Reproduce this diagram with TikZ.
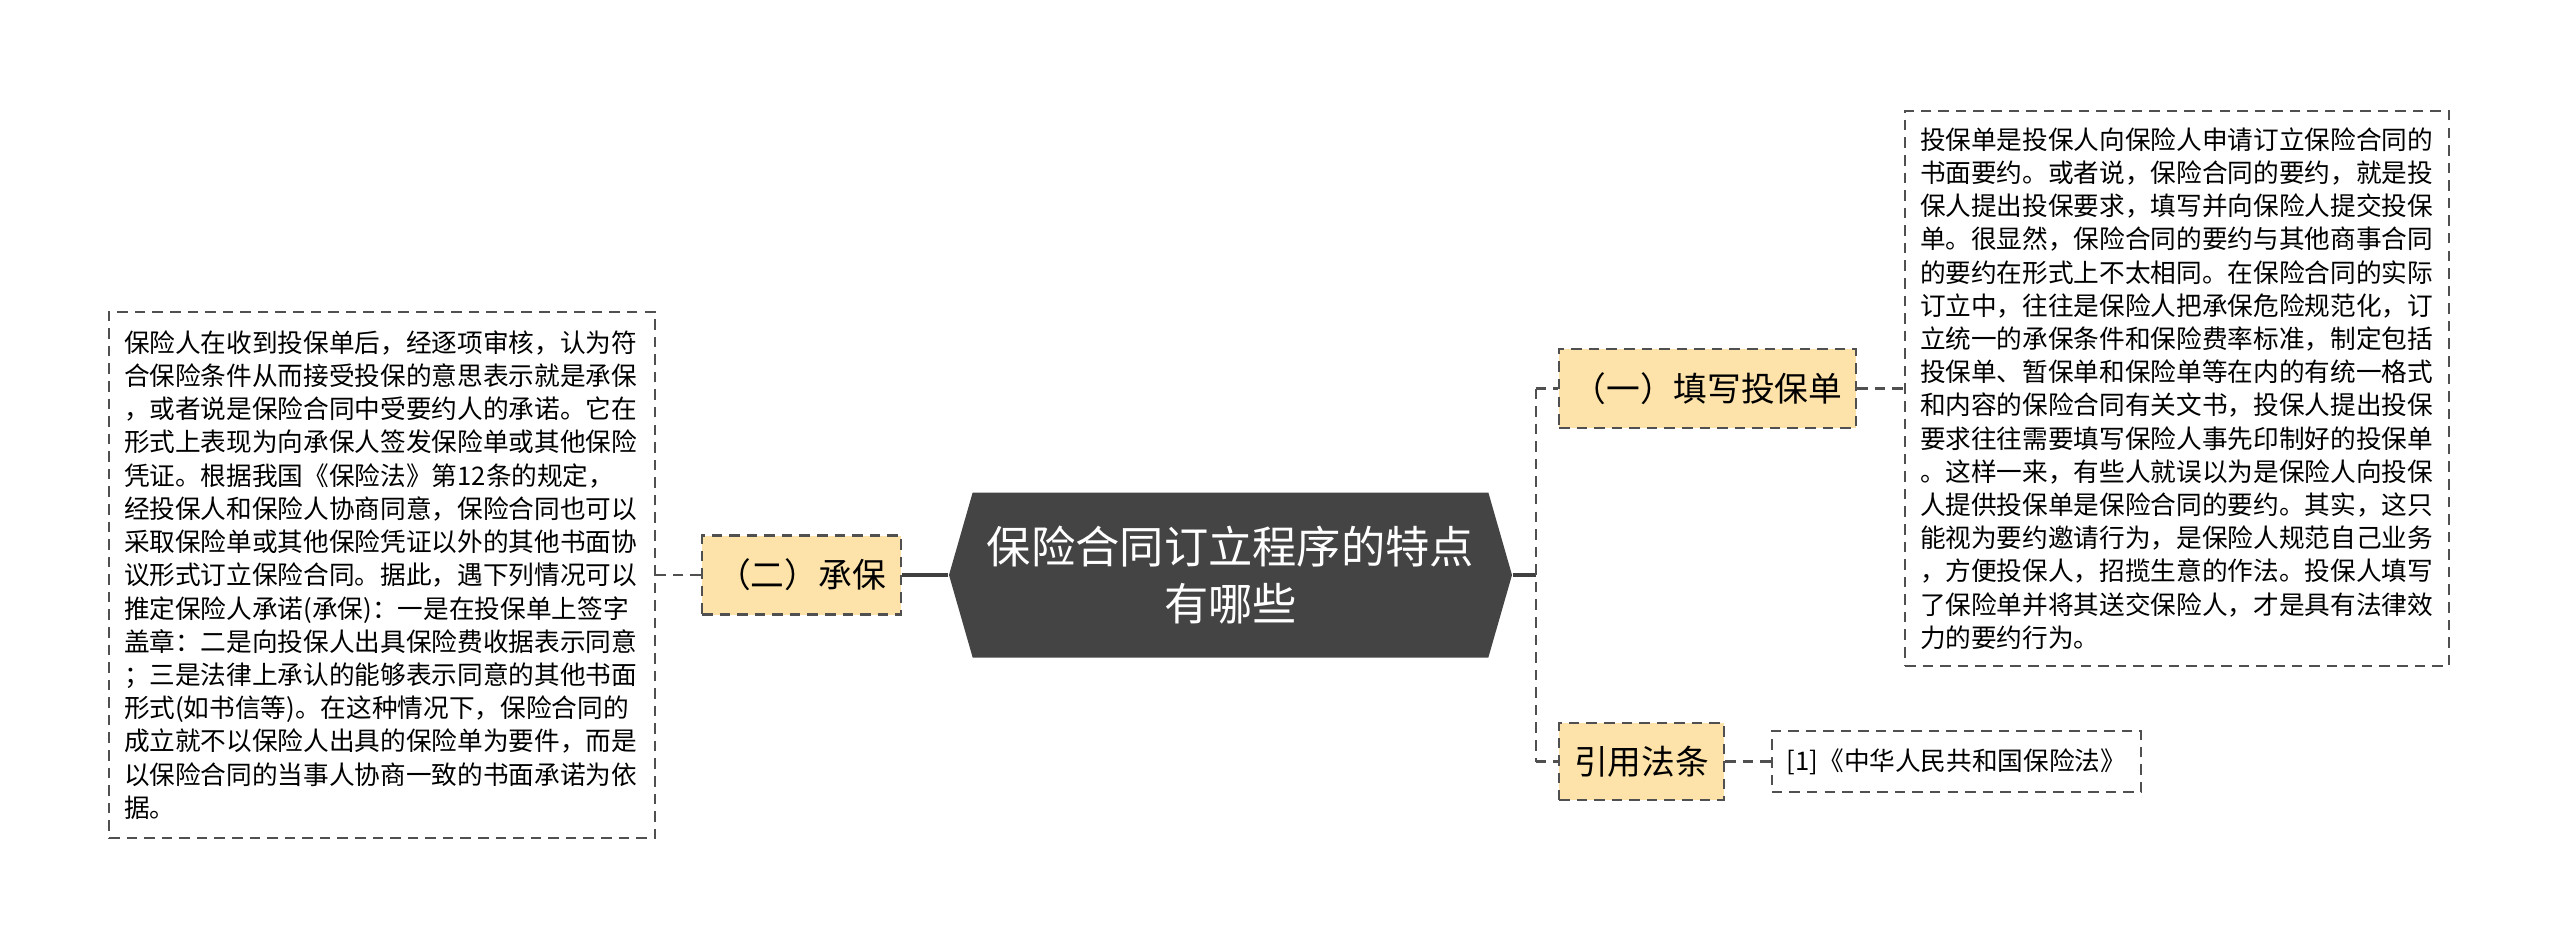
\documentclass[tikz,border=0pt]{standalone}
\usepackage{fontspec}
\setmainfont{Noto Sans CJK SC}
\usepackage{tikz}
\usetikzlibrary{positioning, shapes.symbols}
\definecolor{rootfill}{HTML}{444444}
\definecolor{branchfill}{HTML}{FDE3AA}
\definecolor{linegray}{HTML}{505050}

\tikzset{
  rootnode/.style={signal, signal to=west and east, signal pointer angle=148,
    fill=rootfill, text=white, align=center, inner sep=0pt,
    minimum width=5.63cm, minimum height=1.65cm,
    font=\fontsize{12.6}{16.2}\selectfont},
  branch/.style={draw=linegray, dash pattern=on 3pt off 2pt, line width=0.6pt,
    fill=branchfill, inner sep=0pt, font=\fontsize{9.6}{12}\selectfont},
  leaf/.style={draw=linegray, dash pattern=on 3pt off 2pt, line width=0.6pt,
    align=left, inner ysep=0pt, inner xsep=0.15cm,
    font=\fontsize{7.3}{9.45}\selectfont},
  link/.style={draw=linegray, dash pattern=on 3pt off 2pt, line width=0.6pt},
  trunk/.style={draw=linegray!80!black, line width=1.1pt},
}

\begin{document}
\begin{tikzpicture}
  \path[fill=white, use as bounding box] (0,0) rectangle (25.6,-9.49);

  % 中心主题
  \node[rootnode] (root) at (12.305,-5.75) {保险合同订立程序的特点\\有哪些};

  % 左侧
  \node[branch, minimum width=1.99cm, minimum height=0.79cm] (chengbao) at (8.015,-5.75) {（二）承保};
  \node[leaf, text width=5.16cm, minimum height=5.26cm] (chengbaotxt) at (3.82,-5.75)
    {保险人在收到投保单后，经逐项审核，认为符\\
     合保险条件从而接受投保的意思表示就是承保\\
     ，或者说是保险合同中受要约人的承诺。它在\\
     形式上表现为向承保人签发保险单或其他保险\\
     凭证。根据我国《保险法》第12条的规定，\\
     经投保人和保险人协商同意，保险合同也可以\\
     采取保险单或其他保险凭证以外的其他书面协\\
     议形式订立保险合同。据此，遇下列情况可以\\
     推定保险人承诺(承保)：一是在投保单上签字\\
     盖章：二是向投保人出具保险费收据表示同意\\
     ；三是法律上承认的能够表示同意的其他书面\\
     形式(如书信等)。在这种情况下，保险合同的\\
     成立就不以保险人出具的保险单为要件，而是\\
     以保险合同的当事人协商一致的书面承诺为依\\
     据。};

  % 右侧
  \node[branch, minimum width=2.97cm, minimum height=0.79cm] (tianxie) at (17.075,-3.885) {（一）填写投保单};
  \node[leaf, text width=5.14cm, minimum height=5.55cm] (tianxietxt) at (21.77,-3.885)
    {投保单是投保人向保险人申请订立保险合同的\\
     书面要约。或者说，保险合同的要约，就是投\\
     保人提出投保要求，填写并向保险人提交投保\\
     单。很显然，保险合同的要约与其他商事合同\\
     的要约在形式上不太相同。在保险合同的实际\\
     订立中，往往是保险人把承保危险规范化，订\\
     立统一的承保条件和保险费率标准，制定包括\\
     投保单、暂保单和保险单等在内的有统一格式\\
     和内容的保险合同有关文书，投保人提出投保\\
     要求往往需要填写保险人事先印制好的投保单\\
     。这样一来，有些人就误以为是保险人向投保\\
     人提供投保单是保险合同的要约。其实，这只\\
     能视为要约邀请行为，是保险人规范自己业务\\
     ，方便投保人，招揽生意的作法。投保人填写\\
     了保险单并将其送交保险人，才是具有法律效\\
     力的要约行为。};
  \node[branch, minimum width=1.65cm, minimum height=0.77cm] (fatiao) at (16.415,-7.615) {引用法条};
  \node[leaf, minimum width=3.67cm, minimum height=0.61cm] (fatiaotxt) at (19.565,-7.615) {[1]《中华人民共和国保险法》};

  % 连线
  \draw[trunk] (root.west) -- (chengbao.east);
  \draw[link] (chengbao.west) -- (chengbaotxt.east);
  \draw[trunk] (root.east) -- ++(0.23,0) coordinate (fork);
  \draw[link] (fork |- tianxie.west) -- (fork |- fatiao.west);
  \draw[link] (fork |- tianxie.west) -- (tianxie.west);
  \draw[link] (fork |- fatiao.west) -- (fatiao.west);
  \draw[link] (tianxie.east) -- (tianxietxt.west);
  \draw[link] (fatiao.east) -- (fatiaotxt.west);
\end{tikzpicture}
\end{document}
